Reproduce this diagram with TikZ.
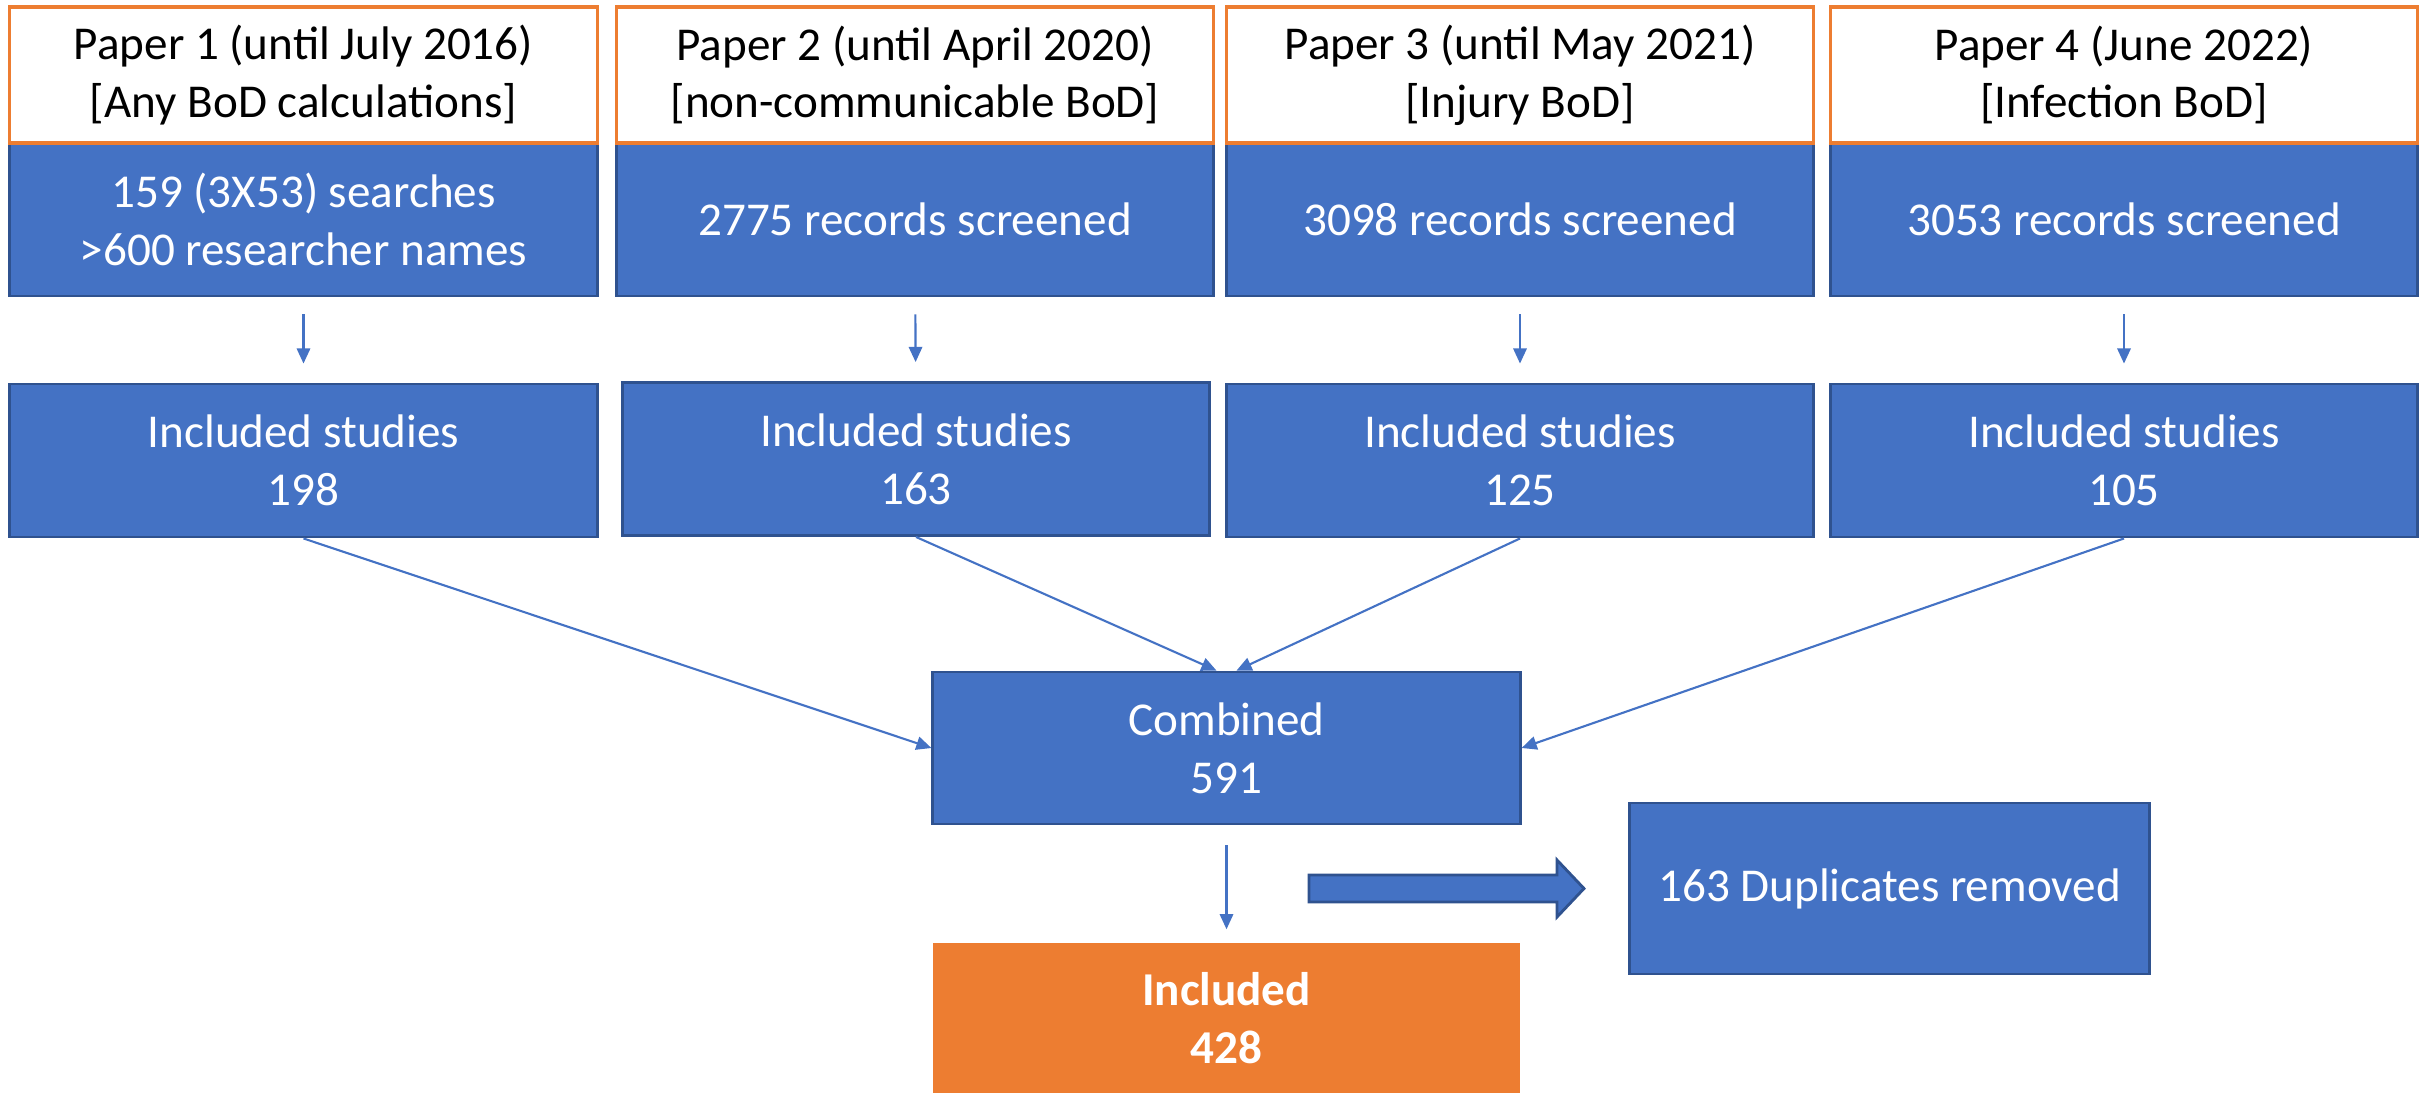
\documentclass[tikz,border=0pt]{standalone}
\usepackage{fontspec}
\setmainfont{Carlito}
\usetikzlibrary{arrows.meta}
\definecolor{bblue}{HTML}{4472C4}
\definecolor{bdark}{HTML}{2F528F}
\definecolor{borange}{HTML}{ED7D31}
\begin{document}
\begin{tikzpicture}[x=0.01cm,y=-0.01cm,
  txt/.style={font=\fontsize{13.4pt}{16.4pt}\selectfont, align=center, inner sep=0pt},
  header/.style={txt, draw=borange, line width=0.9pt, fill=white, text=black, minimum height=1.36cm},
  bluebox/.style={txt, draw=bdark, line width=0.8pt, fill=bblue, text=white, minimum height=1.53cm},
  finalbox/.style={txt, fill=borange, text=white, font=\fontsize{13.4pt}{16.4pt}\selectfont\bfseries, minimum height=1.50cm, minimum width=5.87cm},
  arr/.style={draw=bblue, line width=0.6pt, -{Triangle[length=4.3pt,width=3.8pt]}}
]
\useasboundingbox (0,0) rectangle (2430,1093);
% search boxes
\node[bluebox, minimum width=5.87cm] (s1) at (303.5,219.5) {159 (3X53) searches\\>600 researcher names};
\node[bluebox, minimum width=5.96cm] (s2) at (915,219.5) {2775 records screened};
\node[bluebox, minimum width=5.86cm] (s3) at (1520,219.5) {3098 records screened};
\node[bluebox, minimum width=5.86cm] (s4) at (2124,219.5) {3053 records screened};
% headers
\node[header, minimum width=5.87cm] (h1) at (303.5,75) {Paper 1 (until July 2016)\\{}[Any BoD calculations]};
\node[header, minimum width=5.96cm] (h2) at (915,75) {Paper 2 (until April 2020)\\{}[non-communicable BoD]};
\node[header, minimum width=5.86cm] (h3) at (1520,75) {Paper 3 (until May 2021)\\{}[Injury BoD]};
\node[header, minimum width=5.86cm] (h4) at (2124,75) {Paper 4 (June 2022)\\{}[Infection BoD]};
% included studies
\node[bluebox, minimum width=5.87cm] (i1) at (303.5,460.5) {Included studies\\198};
\node[bluebox, minimum width=5.86cm] (i2) at (916,459) {Included studies\\163};
\node[bluebox, minimum width=5.86cm] (i3) at (1520,460.5) {Included studies\\125};
\node[bluebox, minimum width=5.86cm] (i4) at (2124,460.5) {Included studies\\105};
% combined
\node[bluebox, minimum width=5.87cm, minimum height=1.52cm] (comb) at (1226.5,748) {Combined\\591};
% final
\node[finalbox] (fin) at (1226.5,1018) {Included\\428};
% duplicates
\node[bluebox, minimum width=5.19cm, minimum height=1.71cm] (dup) at (1889.5,888.5) {163 Duplicates removed};
% small arrows
\foreach \a/\b in {s1/i1,s2/i2,s3/i3,s4/i4}
  \draw[arr, shorten <=0.17cm, shorten >=0.19cm] (\a) -- (\b);
% diagonal arrows
\draw[arr] (i1.south) -- (comb.west);
\draw[arr] (i2.south) -- ([xshift=-0.1cm]comb.north);
\draw[arr] (i3.south) -- ([xshift=0.1cm]comb.north);
\draw[arr] (i4.south) -- (comb.east);
% down arrow
\draw[arr, shorten <=0.2cm, shorten >=0.13cm] (comb) -- (fin);
% block arrow
\coordinate (ba) at (1309,888.5);
\draw[draw=bdark, line width=0.8pt, fill=bblue]
  (ba) ++(0,-13.5) -- ++(248,0) -- ++(0,-15) -- ++(27,28.5) -- ++(-27,28.5) -- ++(0,-15) -- ++(-248,0) -- cycle;
\end{tikzpicture}
\end{document}
